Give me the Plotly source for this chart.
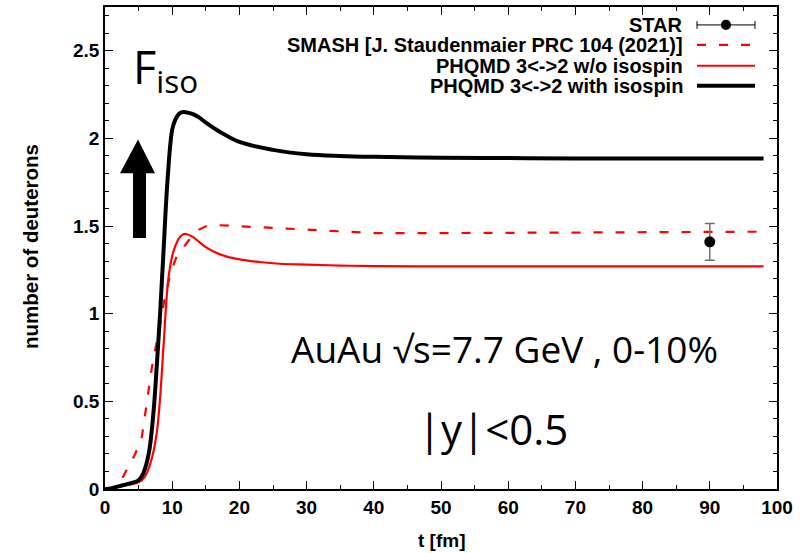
import plotly.graph_objects as go

# ---- data ----
t_with = [0, 1, 2, 3, 4, 5, 5.7, 6.5, 7.2, 7.7, 8.2, 8.7, 9.3, 10, 10.5, 11, 11.5, 12, 13, 14, 15, 17, 20, 25, 30, 35, 40, 50, 60, 70, 80, 90, 98]
y_with = [0, 0.005, 0.015, 0.025, 0.035, 0.05, 0.09, 0.2, 0.43, 0.7, 1.0, 1.35, 1.76, 2.05, 2.11, 2.14, 2.15, 2.15, 2.14, 2.12, 2.09, 2.04, 1.98, 1.935, 1.91, 1.9, 1.895, 1.89, 1.888, 1.886, 1.885, 1.885, 1.885]

t_wo = [0, 1, 2, 3, 4, 4.7, 5.5, 6.2, 7, 7.7, 8.2, 8.7, 9.4, 10, 10.4, 11, 11.5, 12, 13, 14, 15, 17, 20, 23, 26, 30, 35, 40, 50, 60, 70, 80, 90, 98]
y_wo = [0, 0.005, 0.012, 0.02, 0.028, 0.035, 0.05, 0.09, 0.18, 0.32, 0.52, 0.81, 1.19, 1.33, 1.38, 1.43, 1.45, 1.455, 1.44, 1.41, 1.38, 1.34, 1.31, 1.295, 1.285, 1.28, 1.275, 1.272, 1.27, 1.27, 1.27, 1.27, 1.27, 1.27]

t_smash = [0, 1, 2, 2.7, 3.5, 4.5, 5.5, 6.3, 7, 8, 8.9, 9.8, 10.7, 11.5, 12.7, 14, 15.1, 17, 20, 25, 30, 35, 40, 50, 60, 70, 80, 90, 98]
y_smash = [0, 0.005, 0.03, 0.07, 0.13, 0.2, 0.3, 0.5, 0.7, 0.9, 1.09, 1.24, 1.33, 1.37, 1.43, 1.48, 1.5, 1.505, 1.5, 1.49, 1.48, 1.47, 1.46, 1.46, 1.462, 1.465, 1.467, 1.468, 1.468]

star_t = [90]
star_y = [1.41]
star_err = [0.105]

legend_labels = ["STAR", "SMASH [J. Staudenmaier PRC 104 (2021)]",
                 "PHQMD 3<->2 w/o isospin", "PHQMD 3<->2 with isospin"]

x_ticks = list(range(0, 101, 10))
y_ticks = [0, 0.5, 1, 1.5, 2, 2.5]
y_ticklabels = ["0", "0.5", "1", "1.5", "2", "2.5"]

# ---- figure ----
fig = go.Figure()
fig.add_trace(go.Scatter(x=t_smash, y=y_smash, mode="lines",
                         line=dict(color="#ff0000", width=2.2, dash="9px,13px"),
                         name=legend_labels[1]))
fig.add_trace(go.Scatter(x=t_wo, y=y_wo, mode="lines",
                         line=dict(color="#ff0000", width=2.2, shape="spline"),
                         name=legend_labels[2]))
fig.add_trace(go.Scatter(x=t_with, y=y_with, mode="lines",
                         line=dict(color="black", width=4, shape="spline"),
                         name=legend_labels[3]))
fig.add_trace(go.Scatter(x=star_t, y=star_y, mode="markers",
                         marker=dict(color="black", size=11),
                         error_y=dict(type="data", array=star_err, color="#707070",
                                      thickness=1.5, width=5),
                         name=legend_labels[0]))

bold = dict(family="Liberation Sans, Arial", size=19, color="black", weight="bold")
bold_leg = dict(bold, size=20)
bold_title = dict(bold, size=20.5)

fig.update_xaxes(range=[0, 100], tickvals=x_ticks, ticks="inside", ticklen=8,
                 tickcolor="black", tickwidth=1, showline=True, linecolor="black",
                 linewidth=1.5, mirror="ticks", showgrid=False, zeroline=False,
                 tickfont=bold,
                 minor=dict(dtick=5, ticks="inside", ticklen=4, tickcolor="black",
                            showgrid=False))
fig.update_yaxes(range=[0, 2.75], tickvals=y_ticks, ticktext=y_ticklabels,
                 ticks="inside", ticklen=8, tickcolor="black", tickwidth=1,
                 showline=True, linecolor="black", linewidth=1.5, mirror="ticks",
                 showgrid=False, zeroline=False, tickfont=bold,
                 minor=dict(dtick=0.1, ticks="inside", ticklen=4, tickcolor="black",
                            showgrid=False))


def px_x(px):
    return (px - 105) / 672


def px_y(py):
    return (489 - py) / 484


annotations = []
# axis titles
annotations.append(dict(text="t [fm]", x=px_x(441), y=px_y(541), xref="paper", yref="paper",
                        xanchor="center", yanchor="middle", showarrow=False, font=bold))
annotations.append(dict(text="number of deuterons", x=px_x(30), y=px_y(246), xref="paper", yref="paper",
                        xanchor="center", yanchor="middle", textangle=-90, showarrow=False,
                        font=bold_title))
# big texts
annotations.append(dict(text="F<sub>iso</sub>", x=px_x(131), y=px_y(67), xref="paper", yref="paper",
                        xanchor="left", yanchor="middle", showarrow=False,
                        font=dict(family="Open Sans", size=45, color="black")))
annotations.append(dict(text="AuAu √s=7.7 GeV , 0-10%", x=px_x(504), y=px_y(348), xref="paper", yref="paper",
                        xanchor="center", yanchor="middle", showarrow=False,
                        font=dict(family="Open Sans", size=37, color="black")))
annotations.append(dict(text="|y|<0.5", x=px_x(493), y=px_y(428), xref="paper", yref="paper",
                        xanchor="center", yanchor="middle", showarrow=False,
                        font=dict(family="Open Sans", size=42, color="black")))

# manual legend (text right, sample on right like gnuplot)
row_px = [23, 43, 64, 84]
row_y = [px_y(p) for p in row_px]
for lab, yy in zip(legend_labels, row_y):
    annotations.append(dict(text=lab, x=px_x(685), y=yy, xref="paper", yref="paper",
                            xanchor="right", yanchor="middle", showarrow=False, font=bold_leg))

shapes = []
sx0, sx1 = px_x(697), px_x(755)
# STAR sample
shapes.append(dict(type="line", xref="paper", yref="paper", x0=sx0, x1=sx1, y0=row_y[0], y1=row_y[0],
                   line=dict(color="black", width=1)))
for xx in (sx0, sx1):
    shapes.append(dict(type="line", xref="paper", yref="paper", x0=xx, x1=xx,
                       y0=row_y[0] - 0.008, y1=row_y[0] + 0.008, line=dict(color="black", width=1)))
shapes.append(dict(type="circle", xref="paper", yref="paper",
                   x0=(sx0 + sx1) / 2 - 0.0075, x1=(sx0 + sx1) / 2 + 0.0075,
                   y0=row_y[0] - 0.0105, y1=row_y[0] + 0.0105,
                   fillcolor="black", line=dict(color="black", width=0)))
shapes.append(dict(type="line", xref="paper", yref="paper", x0=sx0, x1=sx1, y0=row_y[1], y1=row_y[1],
                   line=dict(color="#ff0000", width=2.2, dash="9px,13px")))
shapes.append(dict(type="line", xref="paper", yref="paper", x0=sx0, x1=sx1, y0=row_y[2], y1=row_y[2],
                   line=dict(color="#ff0000", width=2.2)))
shapes.append(dict(type="line", xref="paper", yref="paper", x0=sx0, x1=sx1, y0=row_y[3], y1=row_y[3],
                   line=dict(color="black", width=4)))

# big arrow (data coords)
arrow_path = ("M 4.17,1.432 L 6.1,1.432 L 6.1,1.801 L 7.44,1.801 L 4.91,1.994 "
              "L 2.23,1.801 L 4.17,1.801 Z")
shapes.append(dict(type="path", xref="x", yref="y", path=arrow_path,
                   fillcolor="black", line=dict(color="black", width=0)))

fig.update_layout(width=800, height=553, margin=dict(l=105, r=23, t=5, b=64),
                  paper_bgcolor="white", plot_bgcolor="white", showlegend=False,
                  annotations=annotations, shapes=shapes)

fig.write_html("out.html")
